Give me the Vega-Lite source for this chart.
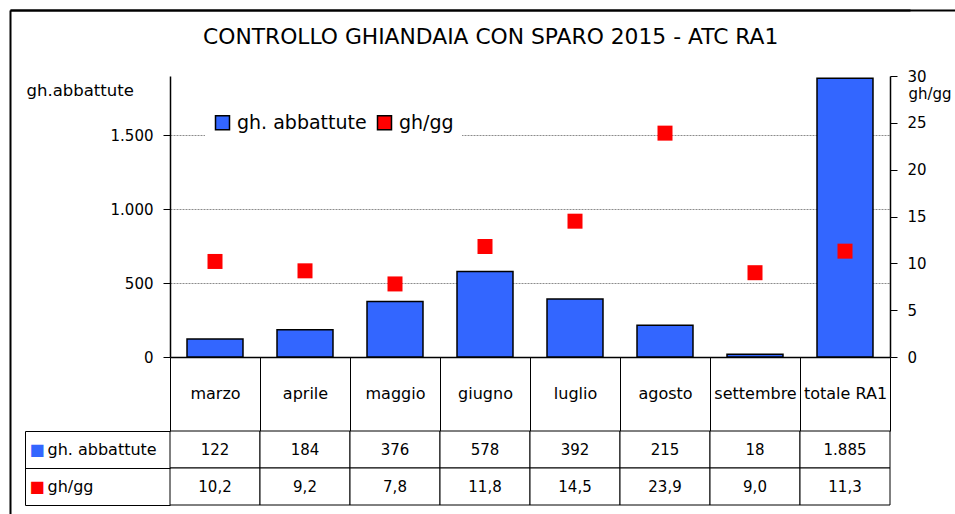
{
  "$schema": "https://vega.github.io/schema/vega-lite/v6.json",
  "autosize": {"type": "none"},
  "padding": {"left": 170, "top": 76, "right": 65, "bottom": 9},
  "width": 720,
  "height": 429,
  "background": "white",
  "title": {
    "text": "CONTROLLO GHIANDAIA CON SPARO 2015 - ATC RA1",
    "fontSize": 21.8,
    "fontWeight": "normal",
    "color": "black",
    "anchor": "start",
    "frame": "group",
    "baseline": "middle",
    "offset": 0,
    "dx": 33,
    "dy": 50
  },
  "data": {
    "values": [
      {"mese": "marzo", "gh": 122, "ghgg": 10.2},
      {"mese": "aprile", "gh": 184, "ghgg": 9.2},
      {"mese": "maggio", "gh": 376, "ghgg": 7.8},
      {"mese": "giugno", "gh": 578, "ghgg": 11.8},
      {"mese": "luglio", "gh": 392, "ghgg": 14.5},
      {"mese": "agosto", "gh": 215, "ghgg": 23.9},
      {"mese": "settembre", "gh": 18, "ghgg": 9.0},
      {"mese": "totale RA1", "gh": 1885, "ghgg": 11.3}
    ]
  },
  "layer": [
    {
      "mark": {"type": "bar", "stroke": "black", "strokeWidth": 1.5, "width": {"band": 0.622}},
      "encoding": {
        "x": {
          "field": "mese", "type": "nominal", "sort": null,
          "scale": {"paddingInner": 0, "paddingOuter": 0},
          "axis": {
            "orient": "bottom", "offset": -148, "domain": true, "domainColor": "black", "domainWidth": 1.5,
            "tickBand": "extent", "tickSize": 74, "tickColor": "black", "tickWidth": 1,
            "labelAngle": 0, "labelFontSize": 16, "labelPadding": -38, "labelBaseline": "middle",
            "labelColor": "black", "labelOverlap": false, "title": null, "grid": false
          }
        },
        "y": {
          "field": "gh", "type": "quantitative",
          "scale": {"domain": [0, 1900], "range": [281, 0], "nice": false, "zero": false},
          "axis": {
            "orient": "left", "values": [0, 500, 1000, 1500], "format": ",.0f",
            "labelFontSize": 15, "labelPadding": 10, "labelColor": "black",
            "tickSize": 7, "tickColor": "black", "domainColor": "black", "domainWidth": 1.5,
            "grid": true, "gridColor": "#8c8c8c", "gridDash": [2, 1],
            "gridOpacity": {"condition": {"test": "datum.value === 0", "value": 0}, "value": 1},
            "title": "gh.abbattute", "titleAngle": 0, "titleX": -144, "titleY": 14,
            "titleAlign": "left", "titleBaseline": "middle", "titleFontSize": 16.5,
            "titleFontWeight": "normal", "titleColor": "black"
          }
        },
        "color": {
          "datum": "gh. abbattute", "type": "nominal",
          "scale": {"domain": ["gh. abbattute", "gh/gg"], "range": ["#3366ff", "#ff0000"]},
          "legend": {
            "orient": "none", "legendX": 35, "legendY": 29, "direction": "horizontal",
            "title": null, "fillColor": "white", "padding": 8, "symbolType": "square",
            "symbolSize": 196, "labelFontSize": 19, "labelColor": "black", "labelOffset": 5,
            "columnPadding": 7, "symbolStrokeWidth": 1.5, "symbolOpacity": 1,
            "encode": {"symbols": {"update": {"stroke": {"signal": "datum.value === 'gh. abbattute' ? 'black' : 'transparent'"}}}}
          }
        }
      }
    },
    {
      "mark": {"type": "square", "size": 225, "opacity": 1, "filled": true},
      "encoding": {
        "x": {
          "field": "mese", "type": "nominal", "sort": null,
          "scale": {"type": "band", "range": [-160, 740], "paddingInner": 0, "paddingOuter": 1, "align": 0.8889},
          "axis": {
            "orient": "top", "offset": 66, "domain": true, "domainColor": "black", "domainWidth": 2,
            "ticks": true, "values": ["marzo"], "bandPosition": 0, "tickOffset": -160,
            "tickSize": -700, "tickWidth": 2, "tickColor": "black",
            "labels": false, "title": null, "grid": false
          }
        },
        "y": {
          "field": "ghgg", "type": "quantitative",
          "scale": {"domain": [0, 30], "range": [281, 0], "nice": false, "zero": false},
          "axis": {
            "orient": "right", "values": [0, 5, 10, 15, 20, 25, 30], "format": "d",
            "labelFontSize": 15, "labelPadding": 10, "labelColor": "black",
            "tickSize": 7, "tickColor": "black", "domainColor": "black", "domainWidth": 1.5,
            "grid": false, "title": "gh/gg", "titleAngle": 0, "titleX": 18, "titleY": 17,
            "titleAlign": "left", "titleBaseline": "middle", "titleFontSize": 15,
            "titleFontWeight": "normal", "titleColor": "black"
          }
        },
        "color": {"datum": "gh/gg", "type": "nominal"}
      }
    },
    {
      "transform": [{"fold": ["gh", "ghgg"], "as": ["serie", "v"]}],
      "mark": {"type": "rect", "fill": "white", "stroke": "black", "strokeWidth": 1},
      "encoding": {
        "x": {"field": "mese", "type": "nominal", "sort": null, "scale": {"paddingInner": 0, "paddingOuter": 0}, "axis": null},
        "y": {
          "field": "serie", "type": "nominal",
          "scale": {"domain": ["gh", "ghgg"], "range": [355, 429], "paddingInner": 0, "paddingOuter": 0},
          "axis": {
            "orient": "left", "domain": false, "ticks": true, "tickBand": "extent", "tickSize": 145,
            "tickColor": "black", "tickWidth": 1,
            "labelExpr": "datum.value === 'gh' ? 'gh. abbattute' : datum.value === 'ghgg' ? 'gh/gg' : ''",
            "labelAlign": "left", "labelPadding": -22, "labelFontSize": 16, "labelColor": "black",
            "labelBaseline": "middle", "title": null, "grid": false
          }
        }
      }
    },
    {
      "mark": {"type": "text", "fontSize": 15, "color": "black"},
      "encoding": {
        "x": {"field": "mese", "type": "nominal", "sort": null, "scale": {"paddingInner": 0, "paddingOuter": 0}, "axis": null},
        "y": {
          "datum": "gh", "type": "nominal",
          "scale": {"domain": ["gh", "ghgg"], "range": [355, 429], "paddingInner": 0, "paddingOuter": 0},
          "axis": {
            "orient": "left", "offset": 145, "domain": true, "domainColor": "black", "domainWidth": 1,
            "ticks": true, "tickSize": 0, "labelExpr": "'■'", "labelAlign": "left", "labelPadding": -4,
            "labelFontSize": 16, "labelBaseline": "middle",
            "labelColor": {"condition": {"test": "datum.value === 'ghgg'", "value": "#ff0000"}, "value": "#3366ff"},
            "title": null, "grid": false
          }
        },
        "text": {"field": "gh", "type": "quantitative", "format": ",.0f"}
      }
    },
    {
      "mark": {"type": "text", "fontSize": 15, "color": "black"},
      "encoding": {
        "x": {"field": "mese", "type": "nominal", "sort": null, "scale": {"paddingInner": 0, "paddingOuter": 0}, "axis": null},
        "y": {
          "datum": "ghgg", "type": "nominal",
          "scale": {"domain": ["gh", "ghgg"], "range": [355, 429], "paddingInner": 0, "paddingOuter": 0},
          "axis": {
            "orient": "left", "offset": 160, "domain": false, "ticks": true,
            "values": ["gh"], "tickOffset": -439.5,
            "tickSize": -1000, "tickWidth": 2, "tickColor": "black",
            "labels": false, "title": null, "grid": false
          }
        },
        "text": {"field": "ghgg", "type": "quantitative", "format": ".1f"}
      }
    }
  ],
  "resolve": {
    "scale": {"x": "independent", "y": "independent"},
    "axis": {"x": "independent", "y": "independent"}
  },
  "config": {
    "font": "DejaVu Sans",
    "locale": {"number": {"decimal": ",", "thousands": ".", "grouping": [3], "currency": ["", " €"]}},
    "view": {"stroke": null},
    "axis": {"labelColor": "black", "titleColor": "black"}
  }
}
